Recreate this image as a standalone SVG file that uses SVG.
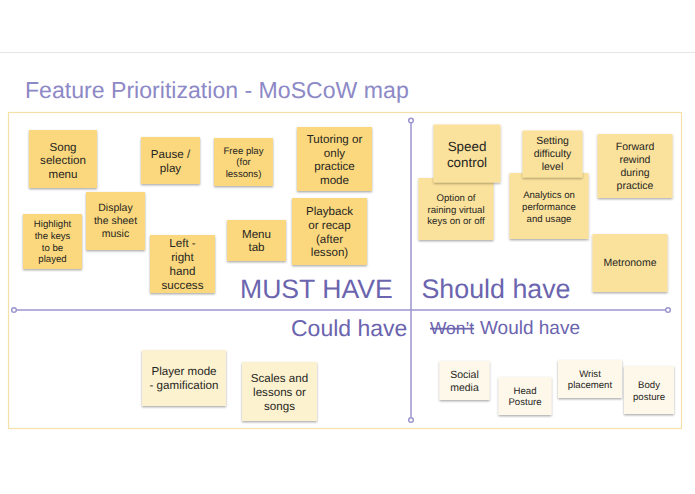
<svg xmlns="http://www.w3.org/2000/svg" width="695" height="494" viewBox="0 0 695 494">
<style>
text{font-family:"Liberation Sans",Arial,sans-serif;text-rendering:geometricPrecision}
.n text{fill:#262522;text-anchor:middle}
.n rect{filter:url(#sh)}
.m rect{fill:#fbd87d}.s rect{fill:#fbe29c}.c rect{fill:#fcf2d0}.w rect{fill:#fdf8ea}
.f12{font-size:11.6px}.f105{font-size:10.5px}.f96{font-size:9.6px}.f134{font-size:13.4px}
.h{fill:#6b64ae}
.ax{stroke:#9c96cd;stroke-width:1.5;fill:none}
.dot{stroke:#9c96cd;stroke-width:1.5;fill:#fff}
</style>
<defs><filter id="sh" x="-10%" y="-10%" width="120%" height="125%"><feDropShadow dx="0" dy="1.2" stdDeviation="0.8" flood-color="#000" flood-opacity="0.35"/></filter></defs>
<rect width="695" height="494" fill="#fff"/>
<line x1="0" y1="52.5" x2="695" y2="52.5" stroke="#e6e6e6"/>
<text x="25" y="98.3" font-size="23.1" fill="#8d89c6">Feature Prioritization - MoSCoW map</text>
<rect x="8.5" y="112.5" width="673" height="316" fill="#fff" stroke="#f6e0a8" stroke-width="1.2"/>
<g id="connectors">
<line class="ax" x1="411" y1="123" x2="411" y2="417.5"/>
<line class="ax" x1="16.5" y1="310" x2="665.5" y2="310"/>
<circle class="dot" cx="411" cy="120.5" r="2.3"/>
<circle class="dot" cx="411" cy="420" r="2.3"/>
<circle class="dot" cx="14" cy="310" r="2.3"/>
<circle class="dot" cx="668" cy="310" r="2.3"/>
</g>
<g id="labels">
<text class="h" x="240" y="297.7" font-size="26.6">MUST HAVE</text>
<text class="h" x="421.5" y="297.7" font-size="26.8">Should have</text>
<text class="h" x="291" y="336" font-size="23">Could have</text>
<text class="h" y="334" font-size="19"><tspan x="430" font-size="17.4" text-decoration="line-through">Won’t</tspan><tspan x="480">Would have</tspan></text>
</g>
<g id="song" class="n m"><rect x="29" y="130" width="68" height="58"/><text class="f12"><tspan x="63" y="150.5">Song</tspan><tspan x="63" y="164">selection</tspan><tspan x="63" y="177.5">menu</tspan></text></g>
<g id="pause" class="n m"><rect x="141" y="137" width="59" height="47"/><text class="f12"><tspan x="170.5" y="158">Pause /</tspan><tspan x="170.5" y="172">play</tspan></text></g>
<g id="free" class="n m"><rect x="214" y="138" width="59" height="48"/><text class="f96"><tspan x="243.5" y="153.7">Free play</tspan><tspan x="243.5" y="165.4">(for</tspan><tspan x="243.5" y="176.7">lessons)</tspan></text></g>
<g id="tutoring" class="n m"><rect x="297" y="127" width="75" height="64"/><text class="f12"><tspan x="334.5" y="143">Tutoring or</tspan><tspan x="334.5" y="156.7">only</tspan><tspan x="334.5" y="170.3">practice</tspan><tspan x="334.5" y="184">mode</tspan></text></g>
<g id="highlight" class="n m"><rect x="23" y="214" width="59" height="55"/><text class="f96"><tspan x="52.5" y="227.4">Highlight</tspan><tspan x="52.5" y="239">the keys</tspan><tspan x="52.5" y="250.7">to be</tspan><tspan x="52.5" y="262.4">played</tspan></text></g>
<g id="display" class="n m"><rect x="86" y="192" width="59" height="58"/><text class="f105"><tspan x="115.5" y="211.4">Display</tspan><tspan x="115.5" y="224">the sheet</tspan><tspan x="115.5" y="237">music</tspan></text></g>
<g id="left-right" class="n m"><rect x="150" y="235" width="65" height="58"/><text class="f12"><tspan x="182.5" y="247.3">Left -</tspan><tspan x="182.5" y="261.3">right</tspan><tspan x="182.5" y="275">hand</tspan><tspan x="182.5" y="288.7">success</tspan></text></g>
<g id="menu" class="n m"><rect x="227" y="220" width="59" height="41"/><text class="f12"><tspan x="256.5" y="237.7">Menu</tspan><tspan x="256.5" y="251.3">tab</tspan></text></g>
<g id="playback" class="n m"><rect x="292" y="198" width="75" height="67"/><text class="f12"><tspan x="329.5" y="215">Playback</tspan><tspan x="329.5" y="229">or recap</tspan><tspan x="329.5" y="242.7">(after</tspan><tspan x="329.5" y="256.3">lesson)</tspan></text></g>
<g id="option" class="n s"><rect x="418.5" y="178" width="75" height="62"/><text class="f96"><tspan x="456" y="201">Option of</tspan><tspan x="456" y="213">raining virtual</tspan><tspan x="456" y="224.4">keys on or off</tspan></text></g>
<g id="speed" class="n s"><rect x="433.5" y="124.5" width="67" height="58"/><text class="f134"><tspan x="467" y="150.7">Speed</tspan><tspan x="467" y="167">control</tspan></text></g>
<g id="analytics" class="n s"><rect x="509.5" y="173" width="79" height="66"/><text class="f96"><tspan x="549" y="198.4">Analytics on</tspan><tspan x="549" y="210">performance</tspan><tspan x="549" y="221.7">and usage</tspan></text></g>
<g id="setting" class="n s"><rect x="522.5" y="130.5" width="60" height="47"/><text class="f105"><tspan x="552.5" y="144.4">Setting</tspan><tspan x="552.5" y="157.4">difficulty</tspan><tspan x="552.5" y="170.4">level</tspan></text></g>
<g id="forward" class="n s"><rect x="597.5" y="134" width="75" height="64"/><text class="f105"><tspan x="635" y="150">Forward</tspan><tspan x="635" y="163">rewind</tspan><tspan x="635" y="176.4">during</tspan><tspan x="635" y="189">practice</tspan></text></g>
<g id="metronome" class="n s"><rect x="592.5" y="234" width="75" height="58"/><text class="f105" x="630" y="266.4">Metronome</text></g>
<g id="player" class="n c"><rect x="142" y="350" width="84" height="56"/><text class="f12"><tspan x="184" y="375.3">Player mode</tspan><tspan x="184" y="389">- gamification</tspan></text></g>
<g id="scales" class="n c"><rect x="242" y="362" width="75" height="59"/><text class="f12"><tspan x="279.5" y="382">Scales and</tspan><tspan x="279.5" y="396">lessons or</tspan><tspan x="279.5" y="409.7">songs</tspan></text></g>
<g id="social" class="n w"><rect x="439.5" y="361" width="50" height="39"/><text class="f105"><tspan x="464.5" y="377.7">Social</tspan><tspan x="464.5" y="390.7">media</tspan></text></g>
<g id="head" class="n w"><rect x="498.5" y="377" width="53" height="38"/><text class="f96"><tspan x="525" y="393.7">Head</tspan><tspan x="525" y="405.4">Posture</tspan></text></g>
<g id="wrist" class="n w"><rect x="558" y="360" width="64" height="38"/><text class="f96"><tspan x="590" y="376.7">Wrist</tspan><tspan x="590" y="388">placement</tspan></text></g>
<g id="body" class="n w"><rect x="624" y="366" width="50" height="48"/><text class="f96"><tspan x="649" y="388">Body</tspan><tspan x="649" y="400">posture</tspan></text></g>
</svg>
